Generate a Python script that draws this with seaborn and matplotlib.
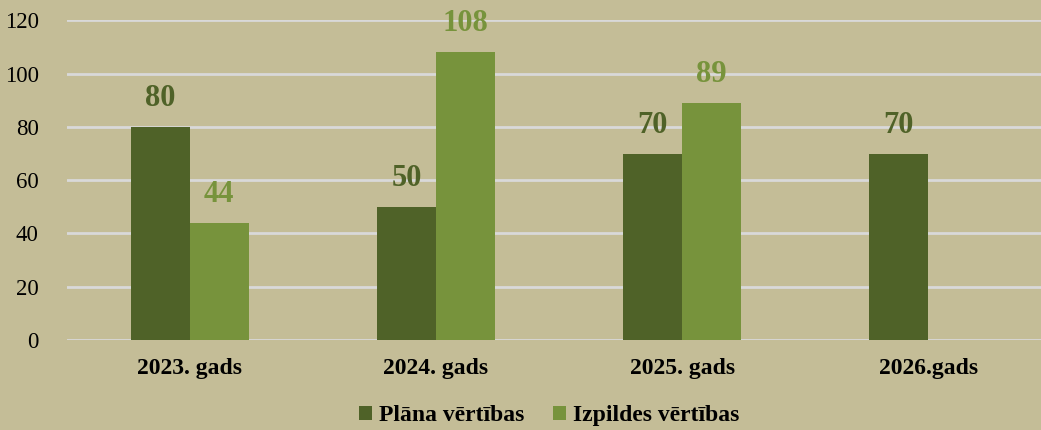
import numpy as np
import pandas as pd
import matplotlib.pyplot as plt
import seaborn as sns

years = ["2023. gads", "2024. gads", "2025. gads", "2026.gads"]
plan_values = [80, 50, 70, 70]
actual_values = [44, 108, 89, np.nan]
series = ["Plāna vērtības", "Izpildes vērtības"]
colors = ["#4F6228", "#77933C"]
bg = "#C4BD97"

df = pd.DataFrame({
    "gads": years * 2,
    "vertiba": plan_values + actual_values,
    "serija": [series[0]] * 4 + [series[1]] * 4,
})

plt.rcParams['font.family'] = ['Liberation Serif', 'DejaVu Serif']

fig = plt.figure(figsize=(10.41, 4.30), dpi=100, facecolor=bg)
ax = fig.add_axes([0.064, 0.209, 0.946, 0.744])
ax.set_facecolor(bg)

sns.barplot(data=df, x="gads", y="vertiba", hue="serija", palette=colors,
            width=0.48, saturation=1, ax=ax, zorder=3)

ax.set_ylim(0, 120)
ax.set_yticks(range(0, 121, 20))
ax.grid(axis='y', color='#D9D9D9', linewidth=2, zorder=0)
ax.set_axisbelow(True)
for s in ax.spines.values():
    s.set_visible(False)
ax.tick_params(axis='y', length=0, pad=20, labelsize=16.5)
ax.tick_params(axis='x', length=0, pad=13, labelsize=17)
for lbl in ax.get_xticklabels():
    lbl.set_fontweight('bold')
ax.set_xlabel("")
ax.set_ylabel("")

for cont, col in zip(ax.containers, colors):
    for bar in cont:
        h = bar.get_height()
        if np.isnan(h):
            continue
        ax.annotate(f"{int(h)}", (bar.get_x() + bar.get_width() / 2, h),
                    xytext=(0, 10), textcoords='offset points', ha='center', va='bottom',
                    fontsize=22, fontweight='bold', color=col, annotation_clip=False)

ax.legend(loc='lower center', bbox_to_anchor=(0.490, -0.335), ncol=2, frameon=False,
          prop={'weight': 'bold', 'size': 17}, handlelength=0.55, handleheight=0.55,
          handletextpad=0.3, columnspacing=1.2)

fig.savefig("out.png", dpi=100, facecolor=bg)
